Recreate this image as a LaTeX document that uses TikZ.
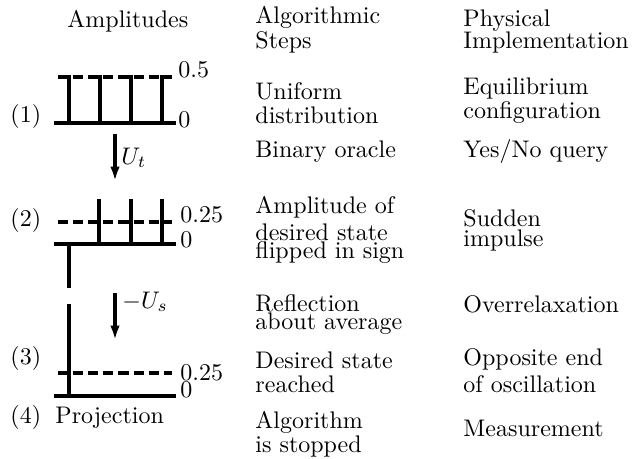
\documentclass[tikz,border=0pt]{standalone}
\usepackage{amsmath}
\usepackage{tikz}
\usetikzlibrary{arrows.meta}

\begin{document}
\begin{tikzpicture}[x=0.4167pt, y=-0.4167pt,
    lvl/.style={line width=2pt},
    avg/.style={line width=2pt, dash pattern=on 4.2pt off 2.1pt},
    txt/.style={anchor=base west, inner sep=0pt, align=left, font=\fontsize{10}{#1}\selectfont},
    txt/.default=9,
    val/.style={anchor=base west, inner sep=0pt},
    arrow/.style={-{Latex[length=6pt, width=4pt]}, line width=1.4pt}
  ]
  \useasboundingbox (0,0) rectangle (633,458);

  \node[txt] (amp) at (67,27) {Amplitudes};
  \node[txt] (alg) at (255,48) {Algorithmic\\Steps};
  \node[txt] (phy) at (463,48) {Physical\\Implementation};

  \node[txt] (s1) at (10,122) {(1)};
  \node[txt] (s2) at (10,226) {(2)};
  \node[txt] (s3) at (10,364) {(3)};
  \node[txt] (s4) at (10,423) {(4)};
  \node[txt] (proj) at (55,423) {Projection};

  \draw[avg] (58,77) -- (172,77);
  \draw[lvl] (54,123) -- (176,123);
  \foreach \x in {69,100,131,162} \draw[lvl] (\x,75) -- (\x,123);
  \node[val] (v1a) at (178,77) {0.5};
  \node[val] (v1b) at (178,127) {0};

  \draw[avg] (58,222) -- (172,222);
  \draw[lvl] (54,244) -- (176,244);
  \foreach \x in {99,131,162} \draw[lvl] (\x,199) -- (\x,244);
  \draw[lvl] (69,244) -- (69,288);
  \node[val] (v2a) at (180,222) {0.25};
  \node[val] (v2b) at (180,247) {0};

  \draw[lvl] (69,304) -- (69,396);
  \draw[avg] (58,373) -- (172,373);
  \draw[lvl] (54,396) -- (176,396);
  \node[val] (v3a) at (180,380) {0.25};
  \node[val] (v3b) at (180,397) {0};

  \coordinate (ut0) at (115,134);
  \coordinate (ut1) at (115,181);
  \coordinate (us0) at (115,293);
  \coordinate (us1) at (115,340);
  \draw[arrow] (ut0) -- (ut1);
  \draw[arrow] (us0) -- (us1);
  \node[val] (ut) at (121,164) {$U_t$};
  \node[val] (us) at (122,308) {$-U_s$};

  \node[txt=9.6] (a1) at (255,123) {Uniform\\distribution};
  \node[txt=8.75] (p1) at (463,118) {Equilibrium\\configuration};
  \node[txt] (a2) at (255,157) {Binary oracle};
  \node[txt] (p2) at (463,157) {Yes/No query};
  \node[txt=7.3] (a3) at (255,258) {Amplitude of\\[1.3pt]desired state\\flipped in sign};
  \node[txt=7.1] (p3) at (463,246) {Sudden\\impulse};
  \node[txt=7.3] (a4) at (255,329) {Reflection\\about average};
  \node[txt] (p4) at (463,312) {Overrelaxation};
  \node[txt=10] (a5) at (255,392) {Desired state\\reached};
  \node[txt=11] (p5) at (463,392) {Opposite end\\of oscillation};
  \node[txt=8.3] (a6) at (255,452) {Algorithm\\is stopped};
  \node[txt] (p6) at (463,436) {Measurement};
\end{tikzpicture}
\end{document}
